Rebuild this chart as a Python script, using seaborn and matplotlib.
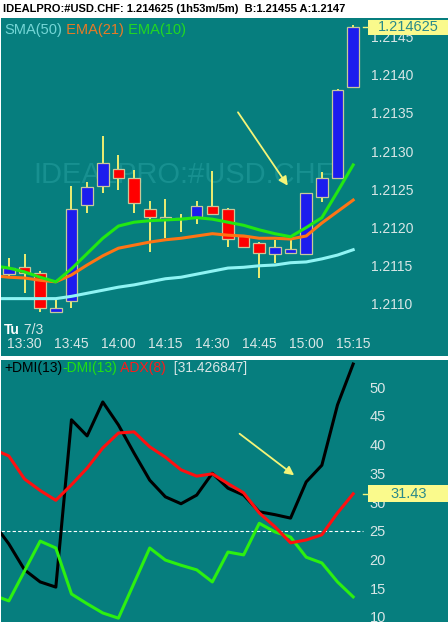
import numpy as np
import pandas as pd
import seaborn as sns
import matplotlib
matplotlib.use("Agg")
import matplotlib.pyplot as plt
import matplotlib.transforms as mtransforms
from matplotlib.patches import Rectangle

# 5 minute bars, 13:25 .. 15:15
times = ["13:25", "13:30", "13:35", "13:40", "13:45", "13:50", "13:55", "14:00",
         "14:05", "14:10", "14:15", "14:20", "14:25", "14:30", "14:35", "14:40",
         "14:45", "14:50", "14:55", "15:00", "15:05", "15:10", "15:15"]
opens = [1.21139, 1.21148, 1.21141, 1.21090, 1.21104, 1.21230, 1.21255, 1.21277,
         1.21265, 1.21224, 1.21211, 1.21211, 1.21214, 1.21228, 1.21224, 1.21189,
         1.21180, 1.21166, 1.21167, 1.21166, 1.21240, 1.21265, 1.21384]
highs = [1.21160, 1.21166, 1.21143, 1.21105, 1.21255, 1.21260, 1.21320, 1.21295,
         1.21276, 1.21235, 1.21238, 1.21218, 1.21235, 1.21274, 1.21225, 1.21190,
         1.21181, 1.21184, 1.21184, 1.21245, 1.21273, 1.21382, 1.21465]
lows = [1.21135, 1.21114, 1.21090, 1.21090, 1.21095, 1.21219, 1.21245, 1.21249,
        1.21219, 1.21168, 1.21186, 1.21194, 1.21205, 1.21218, 1.21175, 1.21175,
        1.21134, 1.21154, 1.21167, 1.21166, 1.21234, 1.21263, 1.21384]
closes = [1.21147, 1.21141, 1.21095, 1.21095, 1.21224, 1.21253, 1.21285, 1.21265,
          1.21232, 1.21214, 1.21214, 1.21212, 1.21228, 1.21218, 1.21185, 1.21175,
          1.21167, 1.21175, 1.21172, 1.21245, 1.21265, 1.21380, 1.214625]

# indicator values start one bar before 13:25 (off the left edge)
sma50 = [1.21107, 1.21107, 1.21107, 1.21107, 1.21107, 1.21110, 1.21114, 1.21118,
         1.21122, 1.21125, 1.21129, 1.21133, 1.21135, 1.21139, 1.21143, 1.21147,
         1.21148, 1.21150, 1.21151, 1.21154, 1.21155, 1.21159, 1.21164, 1.21171]
ema21 = [1.21137, 1.21135, 1.21134, 1.21131, 1.21129, 1.21138, 1.21151, 1.21163,
         1.21173, 1.21177, 1.21181, 1.21184, 1.21186, 1.21189, 1.21192, 1.21190,
         1.21189, 1.21186, 1.21186, 1.21185, 1.21189, 1.21206, 1.21221, 1.21236]
ema10 = [1.21150, 1.21147, 1.21142, 1.21135, 1.21129, 1.21146, 1.21166, 1.21186,
         1.21202, 1.21207, 1.21209, 1.21210, 1.21211, 1.21213, 1.21211, 1.21207,
         1.21203, 1.21197, 1.21192, 1.21188, 1.21200, 1.21213, 1.21247, 1.21282]
plus_dmi = [26.4, 22.7, 18.2, 16.1, 15.2, 44.3, 41.5, 47.4, 43.4, 38.5, 33.8, 30.9,
            29.7, 31.2, 35.0, 32.4, 31.2, 28.3, 27.8, 27.2, 33.5, 36.4, 46.9, 54.0]
minus_dmi = [13.8, 12.8, 18.0, 23.2, 22.0, 14.0, 12.3, 10.7, 9.8, 15.9, 22.0, 19.9,
             19.0, 18.2, 16.1, 21.3, 20.8, 26.3, 24.8, 23.9, 20.4, 19.4, 16.1, 13.5]
adx = [39.2, 38.0, 34.0, 32.0, 30.3, 33.0, 35.9, 39.4, 42.0, 42.2, 39.6, 37.8,
       35.6, 34.5, 34.9, 33.2, 31.6, 28.1, 25.7, 22.9, 23.4, 24.3, 28.1, 31.43]

tick_times = ["13:30", "13:45", "14:00", "14:15", "14:30", "14:45", "15:00", "15:15"]
price_ticks = [1.2110, 1.2115, 1.2120, 1.2125, 1.2130, 1.2135, 1.2140, 1.2145]
dmi_ticks = [10, 15, 20, 25, 30, 35, 40, 45, 50]
last_price = 1.214625
adx_last = 31.426847

bg = "#067e7e"
txt = "#d8e6e6"
yellow = "#f4f478"

plt.rcParams["font.family"] = ["Liberation Sans", "DejaVu Sans"]

fig = plt.figure(figsize=(4.48, 6.25), dpi=100, facecolor="white")
ax1 = fig.add_axes([0.002, 0.4304, 0.998, 0.5408])
ax2 = fig.add_axes([0.002, 0.0048, 0.998, 0.4192])

for ax in (ax1, ax2):
    ax.set_facecolor(bg)
    for s in ax.spines.values():
        s.set_visible(False)
    ax.set_xlim(-0.51, 28.06)

fig.text(0.007, 1 - 9.5 / 625, "IDEALPRO:#USD.CHF: 1.214625 (1h53m/5m)  B:1.21455 A:1.2147",
         fontsize=8.0, fontweight="bold", color="black", va="center", ha="left")

# ---- price panel ----
x = np.arange(len(times))
o = np.array(opens); c = np.array(closes)
up = c >= o
body_lo = np.minimum(o, c)
body_h = np.maximum(np.abs(c - o), 0.000012)
ax1.vlines(x, lows, highs, color="#eeee70", lw=1.4, zorder=2)
ax1.bar(x, body_h, bottom=body_lo, width=0.74,
        color=np.where(up, "#1c1cee", "#ff0000"), edgecolor="#c8c89a", linewidth=0.9, zorder=3)

ax1.text(0.408, 0.535, "IDEALPRO:#USD.CHF", transform=ax1.transAxes, fontsize=21,
         color="#179090", ha="center", va="center", zorder=1)

xl = np.arange(-1, len(times))
ma = pd.DataFrame({"x": xl, "sma": sma50, "e21": ema21, "e10": ema10})
sns.lineplot(data=ma, x="x", y="sma", ax=ax1, color="#8ff4f4", lw=2.2, sort=False, zorder=4)
sns.lineplot(data=ma, x="x", y="e21", ax=ax1, color="#ff7414", lw=2.2, sort=False, zorder=4)
sns.lineplot(data=ma, x="x", y="e10", ax=ax1, color="#22e812", lw=2.2, sort=False, zorder=4)

ax1.set_ylim(1.210319, 1.214743)
ax1.yaxis.tick_right()
ax1.set_yticks(price_ticks)
ax1.set_yticklabels([f"{p:.4f}" for p in price_ticks])
ax1.tick_params(axis="y", length=0, pad=-55.5, labelsize=10, labelcolor=txt)
ax1.set_xticks([times.index(t) for t in tick_times])
ax1.set_xticklabels(tick_times)
ax1.tick_params(axis="x", length=0, pad=-13.5, labelsize=10, labelcolor=txt)
ax1.set_xlabel(""); ax1.set_ylabel("")

t = ax1.text(0.007, 0.964, "SMA(50)", transform=ax1.transAxes, fontsize=10.5,
             color="#74d6d6", va="center")
t = ax1.annotate(" EMA(21)", xy=(1, 0), xycoords=t, va="bottom", fontsize=10.5, color="#e87a26")
ax1.annotate(" EMA(10)", xy=(1, 0), xycoords=t, va="bottom", fontsize=10.5, color="#22d822")

t = ax1.text(0.007, 0.077, "Tu", transform=ax1.transAxes, fontsize=10, fontweight="bold",
             color="white", va="center")
ax1.annotate(" 7/3", xy=(1, 0), xycoords=t, va="bottom", fontsize=10, color=txt)

tr1 = mtransforms.blended_transform_factory(ax1.transAxes, ax1.transData)
h1 = 7.5 / 76400
ax1.add_patch(Rectangle((0.822, last_price - h1), 0.18, 2 * h1, transform=tr1,
                        facecolor="#fafa8c", edgecolor="none", zorder=5, clip_on=False))
ax1.text(0.912, last_price, f"{last_price:.6f}", transform=tr1, fontsize=10.5,
         color="#2a8a8a", ha="center", va="center", zorder=6)
ax1.axhline(last_price, xmin=0.81, xmax=0.822, color=yellow, lw=1, zorder=5)

ax1.annotate("", xy=(17.92, 1.212518), xytext=(14.54, 1.213539),
             arrowprops=dict(arrowstyle="-|>", color=yellow, lw=1.3, mutation_scale=13),
             zorder=6)

# ---- DMI panel ----
dm = pd.DataFrame({"x": xl, "plus": plus_dmi, "minus": minus_dmi, "adx": adx})
ax2.axhline(25, xmin=0, xmax=0.81, color="white", lw=0.8, ls=(0, (3, 2)), zorder=2)
sns.lineplot(data=dm, x="x", y="plus", ax=ax2, color="black", lw=2.2, sort=False, zorder=4)
sns.lineplot(data=dm, x="x", y="minus", ax=ax2, color="#2cf010", lw=2.2, sort=False, zorder=4)
sns.lineplot(data=dm, x="x", y="adx", ax=ax2, color="#ff1010", lw=2.2, sort=False, zorder=4)

ax2.set_ylim(9.13, 54.7)
ax2.yaxis.tick_right()
ax2.set_yticks(dmi_ticks)
ax2.set_yticklabels([str(v) for v in dmi_ticks])
ax2.tick_params(axis="y", length=0, pad=-56.5, labelsize=10.5, labelcolor=txt)
ax2.set_xticks([])
ax2.set_xlabel(""); ax2.set_ylabel("")

t = ax2.text(0.007, 0.969, "+DMI(13)", transform=ax2.transAxes, fontsize=10,
             color="black", va="center")
t = ax2.annotate("-DMI(13)", xy=(1, 0), xycoords=t, va="bottom", fontsize=10, color="#22e012")
t = ax2.annotate(" ADX(8)", xy=(1, 0), xycoords=t, va="bottom", fontsize=10, color="#ff1a1a")
ax2.annotate(f"  [{adx_last:.6f}]", xy=(1, 0), xycoords=t, va="bottom", fontsize=10, color=txt)

tr2 = mtransforms.blended_transform_factory(ax2.transAxes, ax2.transData)
h2 = 8.5 / 5.75
ax2.add_patch(Rectangle((0.822, adx_last - h2), 0.18, 2 * h2, transform=tr2,
                        facecolor="#fafa8c", edgecolor="none", zorder=5, clip_on=False))
ax2.text(0.912, adx_last, f"{adx_last:.2f}", transform=tr2, fontsize=10.5,
         color="#2a8a8a", ha="center", va="center", zorder=6)
ax2.axhline(adx_last, xmin=0.81, xmax=0.822, color=yellow, lw=1, zorder=5)

ax2.annotate("", xy=(18.37, 34.35), xytext=(14.6, 42.17),
             arrowprops=dict(arrowstyle="-|>", color=yellow, lw=1.3, mutation_scale=13),
             zorder=6)

fig.savefig("out.png", dpi=100, facecolor="white")
